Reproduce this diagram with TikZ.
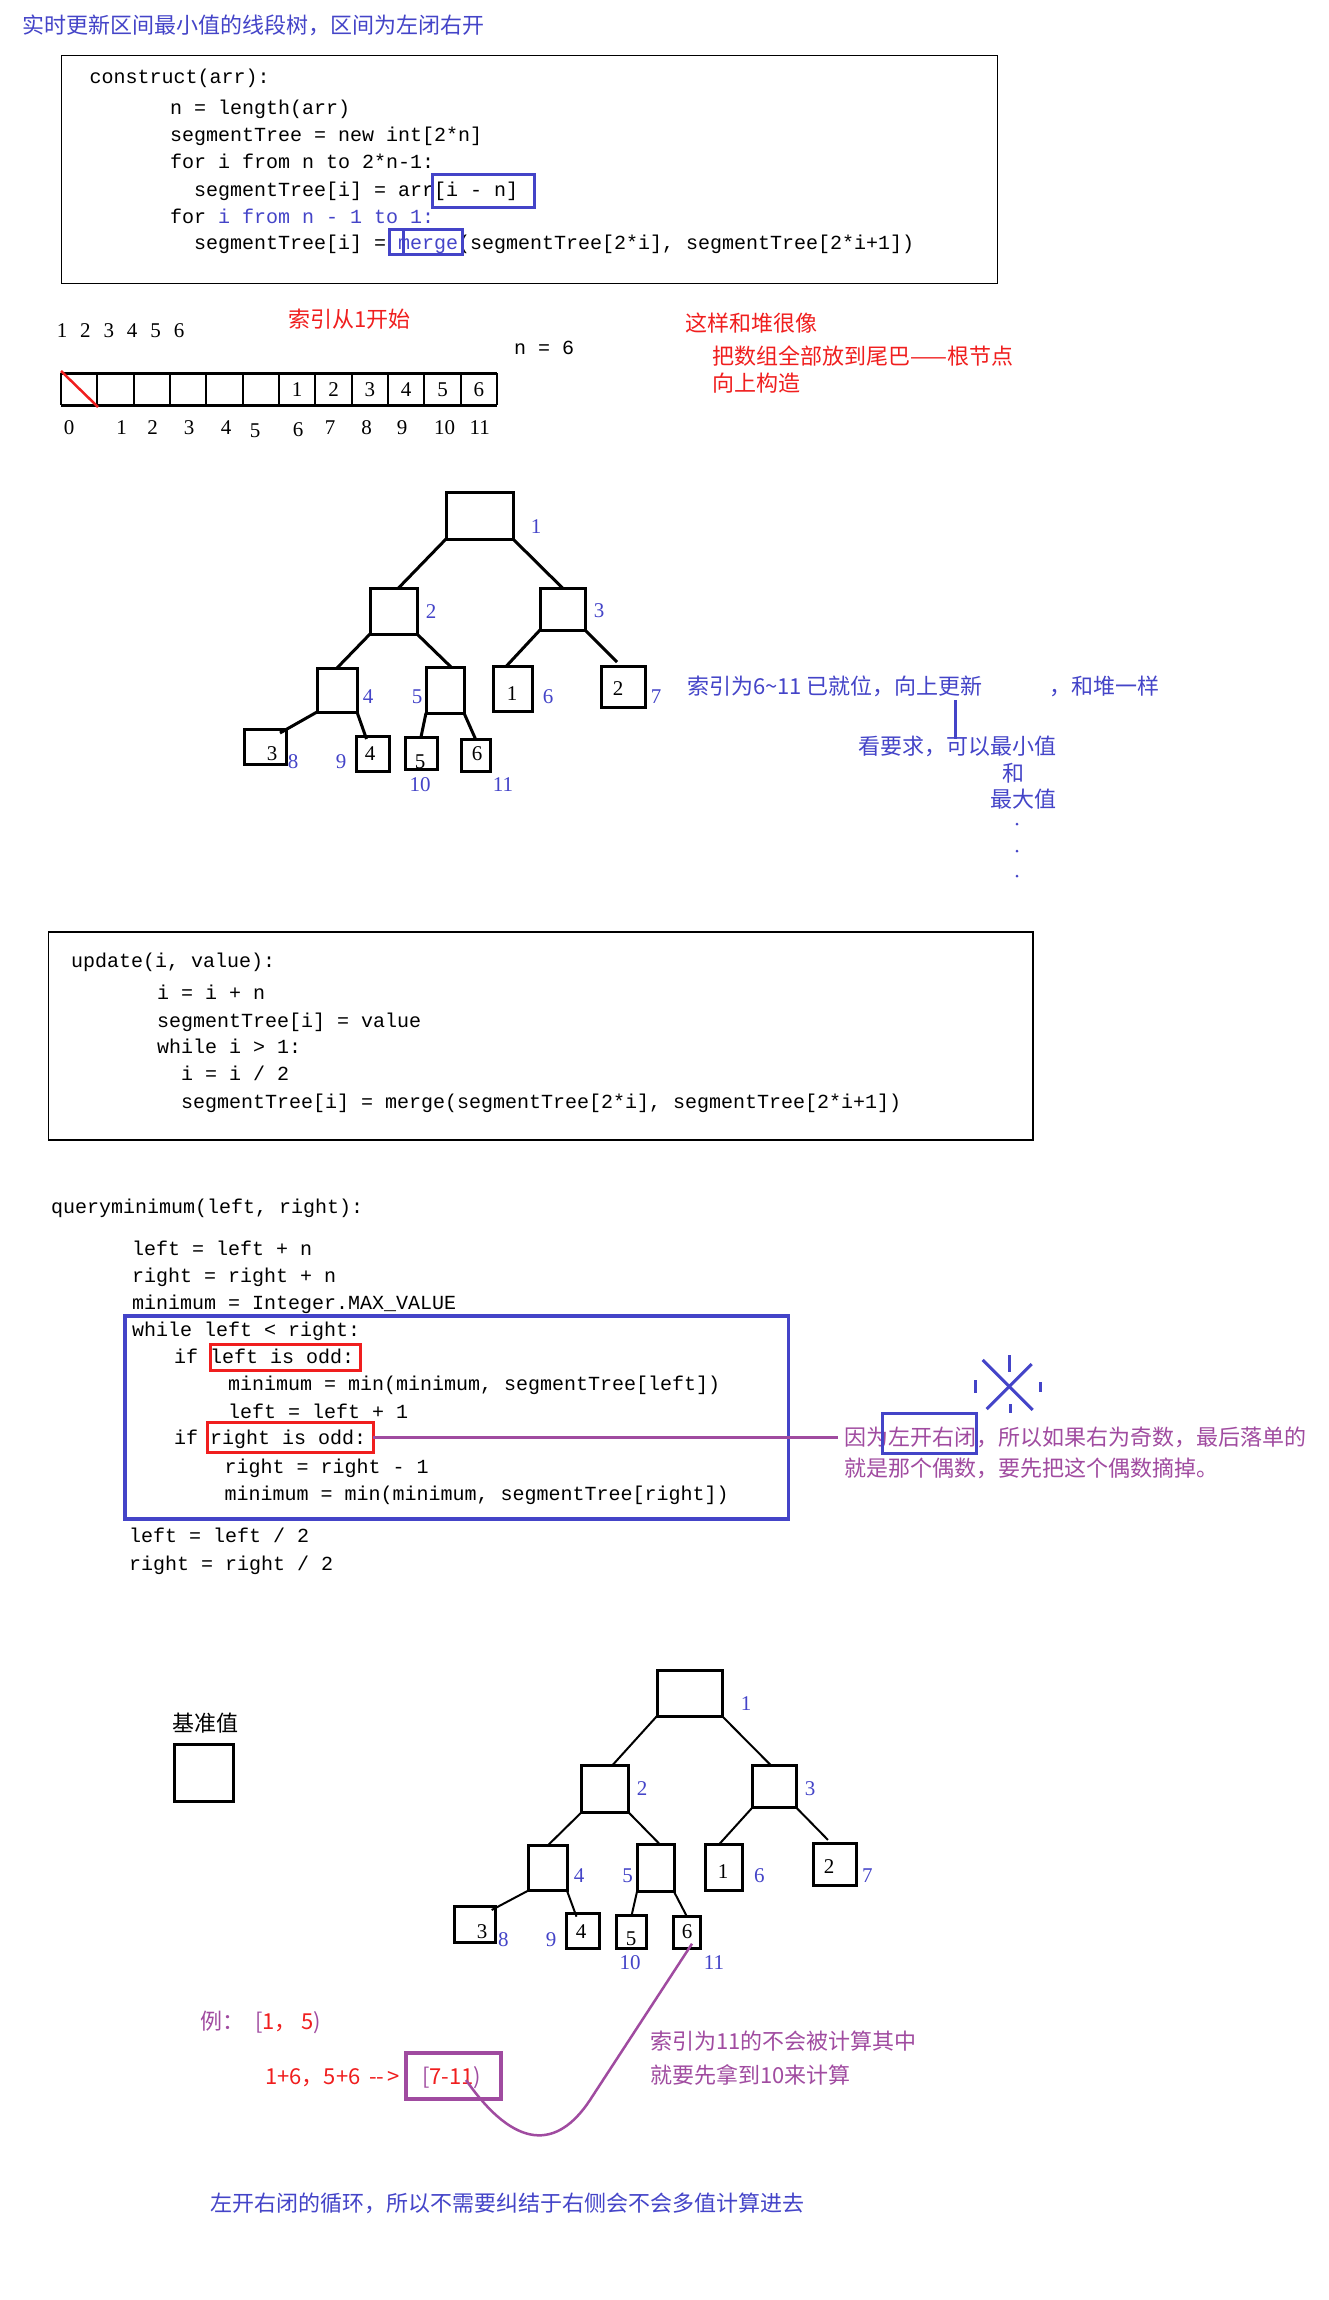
\documentclass[tikz,border=0pt]{standalone}
\usepackage{fontspec}
\setmainfont{Liberation Serif}
\setmonofont{Liberation Mono}
\newfontfamily\cjk{Noto Sans CJK SC}
\definecolor{qblue}{RGB}{68,68,200}
\definecolor{qred}{RGB}{240,30,30}
\definecolor{qpurple}{RGB}{160,75,160}
\begin{document}
\begin{tikzpicture}[x=1pt,y=-1pt,
  codeline/.style={font=\ttfamily\fontsize{20}{24}\selectfont, anchor=base west, inner sep=0pt, outer sep=0pt},
  cjktext/.style={font=\cjk\fontsize{22}{26}\selectfont, anchor=base west, inner sep=0pt},
  digit/.style={font=\fontsize{21}{24}\selectfont, inner sep=0pt},
  lab/.style={digit, text=qblue},
  tbox/.style={draw, line width=3pt, inner sep=0pt, outer sep=0pt},
  edgeA/.style={line width=3pt},
  edgeB/.style={line width=2pt},
  hbox/.style={draw, line width=3pt, inner sep=0pt, outer sep=0pt},
  frame/.style={draw, line width=1.5pt}]
\useasboundingbox (0,0) rectangle (1329,2300);
\fill[white] (0,0) rectangle (1329,2300);

% title
\node[cjktext, text=qblue] (title) at (22,33) {实时更新区间最小值的线段树，区间为左闭右开};

% construct box
\node[frame, minimum width=936pt, minimum height=228pt, inner sep=0pt] (box1) at (529.5,169.5) {};
\node[codeline] (c1) at (89.5,83.5) {construct(arr):};
\node[codeline] (c2) at (170,114.5) {n = length(arr)};
\node[codeline] (c3) at (170,141) {segmentTree = new int[2*n]};
\node[codeline] (c4) at (170,168) {for i from n to 2*n-1:};
\node[codeline] (c5) at (194,196) {segmentTree[i] = arr[i - n]};
\node[codeline] (c6) at (170,223) {for \textcolor{qblue}{i from n - 1 to 1:}};
\node[codeline] (c7) at (194,249.5) {segmentTree[i] = \textcolor{qblue}{merge}(segmentTree[2*i], segmentTree[2*i+1])};
\node[hbox, draw=qblue, minimum width=102pt, minimum height=33pt] (hb1) at (483,190.5) {};
\node[hbox, draw=qblue, minimum width=73pt, minimum height=25pt] (hb2) at (425.5,241.5) {};
\draw[qblue, line width=3pt] (403,229) -- (403,254);

% array
\foreach \k/\v in {0/1,1/2,2/3,3/4,4/5,5/6}{
  \pgfmathsetmacro{\xx}{62+\k*23.4}
  \node[digit] (top\k) at (\xx,331) {\v};
}
\node[cjktext, text=qred] (idx1) at (288,327) {索引从1开始};
\node[cjktext, text=qred] (heap) at (685,331) {这样和堆很像};
\node[codeline] (n6) at (514,354) {n = 6};
\node[cjktext, text=qred] (tail1) at (712,364) {把数组全部放到尾巴——根节点};
\node[cjktext, text=qred] (tail2) at (712,391) {向上构造};
\draw[line width=3pt] (61,373) -- (497,373);
\draw[line width=3pt] (61,405) -- (497,405);
\foreach \k in {0,...,12}{
  \pgfmathsetmacro{\xx}{61+\k*36.33}
  \draw[line width=2pt] (\xx,373) -- (\xx,405);
}
\draw[qred, line width=2.5pt] (61,371) -- (98,407);
\foreach \k/\v in {6/1,7/2,8/3,9/4,10/5,11/6}{
  \pgfmathsetmacro{\xx}{61+\k*36.33+18.2}
  \node[digit] (cell\k) at (\xx,390) {\v};
}
\foreach \v/\xx/\yy in {0/69/428,1/121.7/428,2/152.6/428,3/189/428,4/226/428,5/255/431,6/298/430,7/330/428,8/366.7/428,9/402/428,10/444.5/428,11/479.7/428}{
  \node[digit] (ix\v) at (\xx,\yy) {\v};
}

% tree 1
\node[tbox, minimum width=67pt, minimum height=47pt] (r) at (479.5,515.5) {};
\node[tbox, minimum width=47pt, minimum height=46pt] (n2) at (393.5,611) {};
\node[tbox, minimum width=45pt, minimum height=42pt] (n3) at (562.5,609) {};
\node[tbox, minimum width=40pt, minimum height=44pt] (n4) at (337,690) {};
\node[tbox, minimum width=38pt, minimum height=46pt] (n5) at (445,690) {};
\node[tbox, minimum width=39pt, minimum height=45pt] (n6) at (512.5,688.5) {};
\node[tbox, minimum width=44pt, minimum height=41pt] (n7) at (623,686.5) {};
\node[tbox, minimum width=42pt, minimum height=35pt] (n8) at (265,746.5) {};
\node[tbox, minimum width=33pt, minimum height=35pt] (n9) at (372.5,753.5) {};
\node[tbox, minimum width=32pt, minimum height=32pt] (n10) at (421,753) {};
\node[tbox, minimum width=29pt, minimum height=32pt] (n11) at (475.5,755) {};
\draw[edgeA] (r.south west) -- ([xshift=5pt]n2.north);
\draw[edgeA] (r.south east) -- (n3.north);
\draw[edgeA] (n2.south west) -- (n4.north);
\draw[edgeA] (n2.south east) -- ([xshift=6pt]n5.north);
\draw[edgeA] (n3.south west) -- ([xshift=-6pt]n6.north);
\draw[edgeA] (n3.south east) -- ([xshift=-6pt,yshift=4pt]n7.north);
\draw[edgeA] (n4.south west) -- ([xshift=-6pt,yshift=-4pt]n8.north east);
\draw[edgeA] (n4.south east) -- ([xshift=-6pt,yshift=-3pt]n9.north);
\draw[edgeA] (n5.south west) -- (n10.north);
\draw[edgeA] (n5.south east) -- (n11.north);
\node[digit] (v8) at (272,754) {3};
\node[digit] (v9) at (370,754) {4};
\node[digit] (v10) at (420,762) {5};
\node[digit] (v11) at (477,754) {6};
\node[digit] (v6) at (512,694) {1};
\node[digit] (v7) at (618,689) {2};
\node[lab] (l1) at (536,527) {1};
\node[lab] (l2) at (431,612) {2};
\node[lab] (l3) at (599,611) {3};
\node[lab] (l4) at (368,697) {4};
\node[lab] (l5) at (417,697) {5};
\node[lab] (l6) at (548,697) {6};
\node[lab] (l7) at (656,697) {7};
\node[lab] (l8) at (293,762) {8};
\node[lab] (l9) at (341,762) {9};
\node[lab] (l10) at (420,785) {10};
\node[lab] (l11) at (503,785) {11};

% notes on the right
\node[cjktext, text=qblue] (note1) at (687,694) {索引为6\textasciitilde11 已就位，向上更新};
\node[cjktext, text=qblue] (note2) at (1049,694) {，和堆一样};
\coordinate (vl1) at (955,700);
\coordinate (vl2) at (955,739);
\draw[qblue, line width=3pt] (vl1) -- (vl2);
\node[cjktext, text=qblue] (note3) at (858,754) {看要求，可以最小值};
\node[cjktext, text=qblue] (note4) at (1002,781) {和};
\node[cjktext, text=qblue] (note5) at (990,807) {最大值};
\fill[qblue] (1017,824) circle (1.5pt) (1017,851) circle (1.5pt) (1017,876) circle (1.5pt);

% update box
\node[frame, minimum width=984.6pt, minimum height=208pt, inner sep=0pt] (box2) at (540.7,1036) {};
\node[codeline] (u1) at (71,967.5) {update(i, value):};
\node[codeline] (u2) at (157,999) {i = i + n};
\node[codeline] (u3) at (157,1027) {segmentTree[i] = value};
\node[codeline] (u4) at (157,1053.5) {while i > 1:};
\node[codeline] (u5) at (181,1080.5) {i = i / 2};
\node[codeline] (u6) at (181,1108.5) {segmentTree[i] = merge(segmentTree[2*i], segmentTree[2*i+1])};

% query
\node[codeline] (q1) at (51,1213.5) {queryminimum(left, right):};
\node[codeline] (q2) at (132,1255) {left = left + n};
\node[codeline] (q3) at (132,1282.5) {right = right + n};
\node[codeline] (q4) at (132,1309) {minimum = Integer.MAX\_VALUE};
\node[codeline] (q5) at (132,1336) {while left < right:};
\node[codeline] (q6) at (174,1363) {if left is odd:};
\node[codeline] (q7) at (228,1390) {minimum = min(minimum, segmentTree[left])};
\node[codeline] (q8) at (228,1418) {left = left + 1};
\node[codeline] (q9) at (174,1444) {if right is odd:};
\node[codeline] (q10) at (224.5,1473) {right = right - 1};
\node[codeline] (q11) at (224.5,1500) {minimum = min(minimum, segmentTree[right])};
\node[codeline] (q12) at (129,1542) {left = left / 2};
\node[codeline] (q13) at (129,1570) {right = right / 2};
\node[hbox, draw=qblue, line width=3.5pt, minimum width=663.5pt, minimum height=203pt] (loop) at (456.75,1417.5) {};
\node[hbox, draw=qred, minimum width=150.5pt, minimum height=26pt] (lodd) at (285.25,1357) {};
\node[hbox, draw=qred, minimum width=165.5pt, minimum height=30pt] (rodd) at (290.25,1437) {};
\coordinate (pend) at (838,1437);
\draw[qpurple, line width=3pt] (rodd.east) -- (pend);
\node[cjktext, text=qpurple] (why1) at (844,1445) {因为左开右闭，所以如果右为奇数，最后落单的};
\node[cjktext, text=qpurple] (why2) at (844,1476) {就是那个偶数，要先把这个偶数摘掉。};
\node[hbox, draw=qblue, minimum width=94pt, minimum height=40pt] (lkrb) at (929,1433) {};
% cross mark
\begin{scope}[qblue, line width=3pt]
\draw (982.7,1360) -- (1032.7,1410);
\draw (1031.7,1364) -- (986.7,1409);
\draw (1009.5,1355) -- (1009.5,1372);
\draw (1010,1404) -- (1010,1413);
\draw (975.5,1380) -- (975.5,1393);
\draw (1040,1382) -- (1040,1392);
\end{scope}

% tree 2
\node[cjktext] (base) at (172,1731) {基准值};
\node[tbox, minimum width=59pt, minimum height=57pt] (bbox) at (203.5,1772.5) {};
\node[tbox, minimum width=65pt, minimum height=46pt] (R) at (689.5,1693) {};
\node[tbox, minimum width=47pt, minimum height=46.6pt] (m2) at (605,1789) {};
\node[tbox, minimum width=43.4pt, minimum height=41.6pt] (m3) at (774.3,1786.5) {};
\node[tbox, minimum width=39pt, minimum height=45pt] (m4) at (547.5,1868.2) {};
\node[tbox, minimum width=37pt, minimum height=46.7pt] (m5) at (655.5,1868.3) {};
\node[tbox, minimum width=36.5pt, minimum height=46pt] (m6) at (724,1867) {};
\node[tbox, minimum width=42.5pt, minimum height=41.7pt] (m7) at (835,1864.8) {};
\node[tbox, minimum width=40.7pt, minimum height=36pt] (m8) at (475.3,1924.7) {};
\node[tbox, minimum width=32.5pt, minimum height=34.7pt] (m9) at (583.2,1931.3) {};
\node[tbox, minimum width=30.5pt, minimum height=33pt] (m10) at (631.7,1931.5) {};
\node[tbox, minimum width=27pt, minimum height=32pt] (m11) at (687,1932.7) {};
\draw[edgeB] (R.south west) -- ([xshift=7pt]m2.north);
\draw[edgeB] (R.south east) -- ([xshift=-3pt]m3.north);
\draw[edgeB] (m2.south west) -- (m4.north);
\draw[edgeB] (m2.south east) -- ([xshift=5pt]m5.north);
\draw[edgeB] (m3.south west) -- ([xshift=-4.6pt]m6.north);
\draw[edgeB] (m3.south east) -- ([xshift=-7pt,yshift=4pt]m7.north);
\draw[edgeB] (m4.south west) -- ([xshift=-4pt,yshift=-3.3pt]m8.north east);
\draw[edgeB] (m4.south east) -- ([xshift=-6.7pt,yshift=-2.7pt]m9.north);
\draw[edgeB] (m5.south west) -- (m10.north);
\draw[edgeB] (m5.south east) -- (m11.north);
\node[digit] (w8) at (482,1932) {3};
\node[digit] (w9) at (581,1932) {4};
\node[digit] (w10) at (631,1939) {5};
\node[digit] (w11) at (687,1932) {6};
\node[digit] (w6) at (723,1872) {1};
\node[digit] (w7) at (829,1867) {2};
\node[lab] (k1) at (746,1704) {1};
\node[lab] (k2) at (642,1789) {2};
\node[lab] (k3) at (810,1789) {3};
\node[lab] (k4) at (579,1876) {4};
\node[lab] (k5) at (627.6,1876) {5};
\node[lab] (k6) at (759.4,1876) {6};
\node[lab] (k7) at (867.3,1876) {7};
\node[lab] (k8) at (503.4,1940) {8};
\node[lab] (k9) at (551,1940) {9};
\node[lab] (k10) at (630,1963) {10};
\node[lab] (k11) at (714,1963) {11};

% example
\node[cjktext, text=qpurple] (ex) at (200,2029) {例：};
\node[cjktext, text=qpurple] (exr) at (255,2029) {[\textcolor{qred}{1， 5})};
\node[cjktext, text=qred] (calc) at (265,2084) {1+6，5+6 \,-{}-\,>};
\node[hbox, draw=qpurple, line width=3.5pt, minimum width=95pt, minimum height=46pt] (rng) at (453.5,2076) {};
\node[cjktext, text=qpurple] (rngt) at (422,2084) {[\textcolor{qred}{7-11})};
\coordinate (cend) at (466,2080);
\draw[qpurple, line width=2.5pt] ([xshift=5pt,yshift=5pt]m11.south) -- (590,2100) .. controls (557,2150) and (515,2150) .. (cend);
\node[cjktext, text=qpurple] (r11a) at (650,2049.5) {索引为11的不会被计算其中};
\node[cjktext, text=qpurple] (r11b) at (650,2083) {就要先拿到10来计算};
\node[cjktext, text=qblue] (concl) at (210,2211.5) {左开右闭的循环，所以不需要纠结于右侧会不会多值计算进去};
\end{tikzpicture}
\end{document}
